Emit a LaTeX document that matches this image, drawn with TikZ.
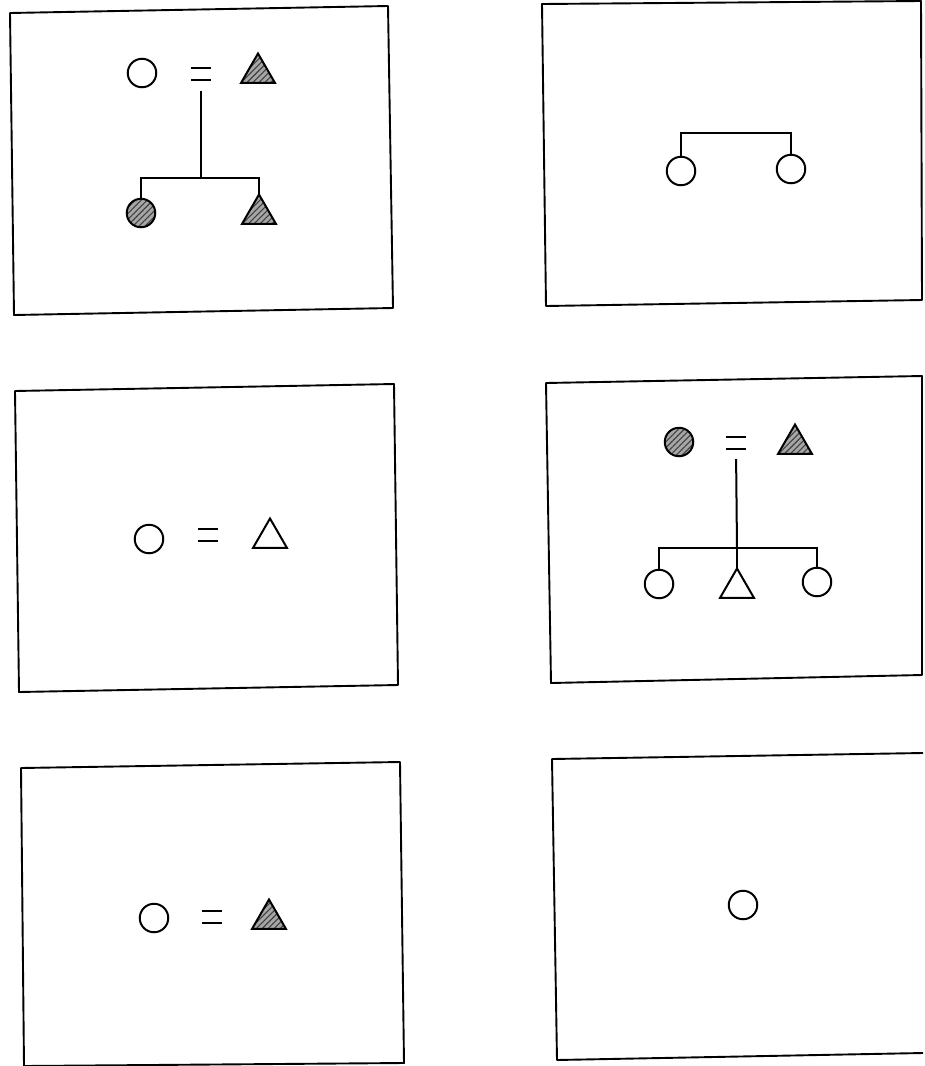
\documentclass[tikz,border=0pt]{standalone}
\usepackage{tikz}
\usetikzlibrary{shapes.geometric,patterns.meta}

\begin{document}
\begin{tikzpicture}[x=1pt,y=-1pt,
  panel/.style={line width=1.9pt,line join=round},
  pline/.style={line width=2pt},
  pcirc/.style={circle,draw,line width=2pt,minimum size=28.5pt,inner sep=0pt,outer sep=0pt},
  ptri/.style={regular polygon,regular polygon sides=3,draw,line width=2pt,
    minimum size=39pt,inner sep=0pt,outer sep=0pt},
  hatched/.style={preaction={fill=black!35},
    pattern={Lines[angle=45,distance=4.2pt,line width=1.1pt]},pattern color=black!75},
  spouses/.style={rectangle,minimum width=20pt,minimum height=12pt,inner sep=0pt,outer sep=0pt}]
  \useasboundingbox (0,0) rectangle (925,1066);
  \fill[white] (0,0) rectangle (925,1066);

  % Frames
  \draw[panel] (10,13) -- (388,6) -- (393,308) -- (14,315) -- cycle;
  \draw[panel] (542,4) -- (921,1) -- (922,300) -- (546,306) -- cycle;
  \draw[panel] (15,391) -- (394,384) -- (398,685) -- (19,692) -- cycle;
  \draw[panel] (546,383) -- (922,376) -- (922,675) -- (551,683) -- cycle;
  \draw[panel] (21,768) -- (400,762) -- (404,1063) -- (24,1066) -- cycle;
  \draw[panel] (923,753) -- (552,759) -- (557,1060) -- (923,1053);

  % Panel 1: couple with two children
  \node[pcirc] (mother1) at (142,73) {};
  \node[spouses] (wed1) at (201,74) {};
  \node[ptri,hatched] (father1) at (258,73) {};
  \node[pcirc,hatched] (daughter1) at (141,213) {};
  \node[ptri,hatched] (son1) at (259,214) {};
  \coordinate (sib1) at (201,178);
  \draw[pline] (wed1.north west) -- (wed1.north east) (wed1.south west) -- (wed1.south east);
  \draw[pline,shorten <=11pt] (wed1.south) -- (sib1);
  \draw[pline] (daughter1.north) |- (sib1) -| (son1.north);

  % Panel 2: two sisters
  \node[pcirc] (sister2a) at (681,171) {};
  \node[pcirc] (sister2b) at (791,169) {};
  \coordinate (sib2) at (736,133);
  \draw[pline] (sister2a.north) |- (sib2) -| (sister2b.north);

  % Panel 3: couple
  \node[pcirc] (wife3) at (149,539) {};
  \node[spouses] (wed3) at (208,535) {};
  \node[ptri] (husband3) at (270,538) {};
  \draw[pline] (wed3.north west) -- (wed3.north east) (wed3.south west) -- (wed3.south east);

  % Panel 4: couple with three children
  \node[pcirc,hatched] (mother4) at (679,442) {};
  \node[spouses] (wed4) at (736,443) {};
  \node[ptri,hatched] (father4) at (795,444) {};
  \node[pcirc] (child4a) at (659,584) {};
  \node[ptri] (child4b) at (737,588) {};
  \node[pcirc] (child4c) at (817,582) {};
  \coordinate (sib4) at (737,548);
  \draw[pline] (wed4.north west) -- (wed4.north east) (wed4.south west) -- (wed4.south east);
  \draw[pline,shorten <=10pt] (wed4.south) -- (sib4);
  \draw[pline] (child4a.north) |- (sib4) -| (child4c.north);
  \draw[pline] (sib4) -- (child4b.north);

  % Panel 5: couple
  \node[pcirc] (wife5) at (154,918) {};
  \node[spouses] (wed5) at (212,917) {};
  \node[ptri,hatched] (husband5) at (269,919) {};
  \draw[pline] (wed5.north west) -- (wed5.north east) (wed5.south west) -- (wed5.south east);

  % Panel 6: single woman
  \node[pcirc] (woman6) at (743,905) {};
\end{tikzpicture}
\end{document}
